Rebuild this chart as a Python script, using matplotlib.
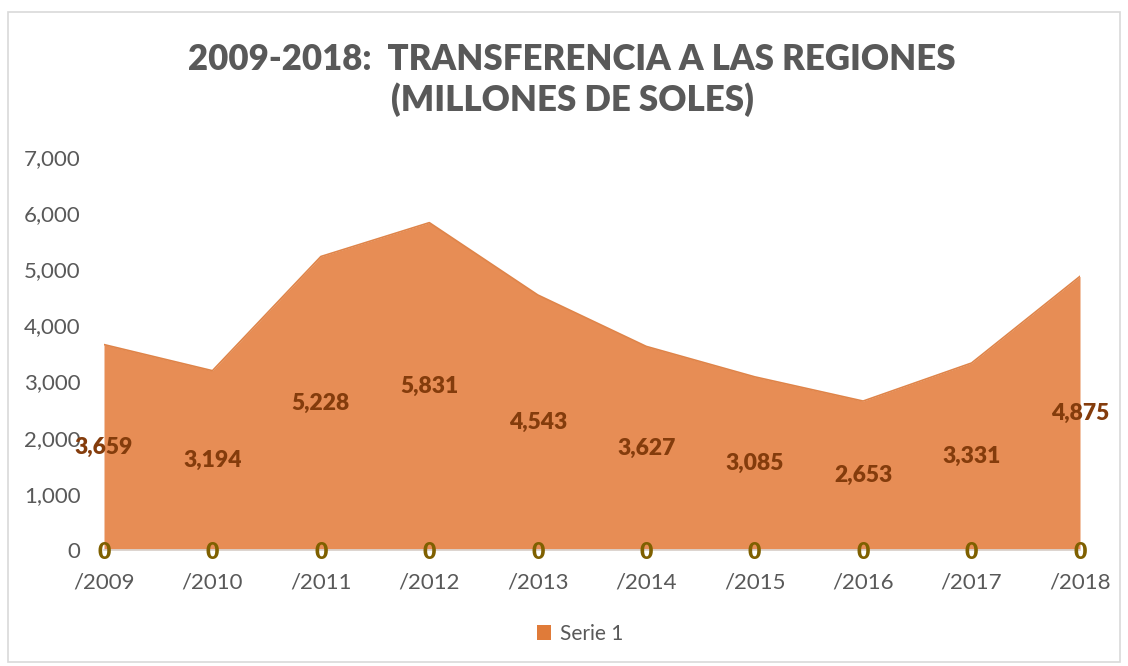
import matplotlib
matplotlib.use('Agg')

import matplotlib.pyplot as plt
from matplotlib.patches import Rectangle, Patch

# ------------------ DATA ------------------

years = ['/2009', '/2010', '/2011', '/2012', '/2013',
         '/2014', '/2015', '/2016', '/2017', '/2018']
serie1 = [3659, 3194, 5228, 5831, 4543, 3627, 3085, 2653, 3331, 4875]
serie2 = [0, 0, 0, 0, 0, 0, 0, 0, 0, 0]
y_ticks = [0, 1000, 2000, 3000, 4000, 5000, 6000, 7000]

title = '2009-2018:  TRANSFERENCIA A LAS REGIONES\n(MILLONES DE SOLES)'

# ------------------ STYLE ------------------

plt.rcParams['font.family'] = ['Lato', 'DejaVu Sans']
grey = '#595959'
fill_color = '#E78D55'
label_color = '#843C0C'
zero_color = '#7F6000'

fig = plt.figure(figsize=(11.28, 6.66), dpi=100)
fig.patch.set_facecolor('white')

# outer chart border
fig.patches.append(Rectangle((8 / 1128, 4 / 666), 1112 / 1128, 650 / 666,
                             transform=fig.transFigure, fill=False,
                             edgecolor='#D9D9D9', linewidth=1.2))

ax = fig.add_axes([104 / 1128, 116 / 666, 976 / 1128, 393 / 666])

x = list(range(len(years)))
ax.fill_between(x, serie1, 0, color=fill_color, linewidth=0)
ax.plot(x, serie1, color='#DF8449', linewidth=1.2)

ax.set_xlim(0, len(years) - 1)
ax.set_ylim(0, 7000)
ax.set_yticks(y_ticks)
ax.set_yticklabels([f'{v:,}' for v in y_ticks])
ax.set_xticks(x)
ax.set_xticklabels(years)

for side in ['top', 'right', 'left']:
    ax.spines[side].set_visible(False)
ax.spines['bottom'].set_color('#D9D9D9')
ax.spines['bottom'].set_linewidth(1.2)
ax.tick_params(axis='both', length=0, labelsize=16, colors=grey)
ax.tick_params(axis='y', pad=17)
ax.tick_params(axis='x', pad=16)

# data labels
for i, v in enumerate(serie1):
    ax.text(i, v / 2, f'{v:,}', ha='center', va='center',
            fontsize=16.5, fontweight='heavy', color=label_color, clip_on=False)
for i, v in enumerate(serie2):
    ax.text(i, v - 50, f'{v}', ha='center', va='center',
            fontsize=16.5, fontweight='heavy', color=zero_color, clip_on=False)

fig.text(572 / 1128, 1 - 80 / 666, title, ha='center', va='center',
         fontsize=25, fontweight='heavy', color=grey, linespacing=1.25)

handle = Patch(facecolor='#E07B39', edgecolor='none')
fig.legend([handle], ['Serie 1'], loc='center', bbox_to_anchor=(580 / 1128, 1 - 634 / 666),
           frameon=False, fontsize=15, labelcolor=grey, handlelength=0.7,
           handleheight=0.7, handletextpad=0.4)

plt.savefig('out.png', dpi=100)
plt.close()
